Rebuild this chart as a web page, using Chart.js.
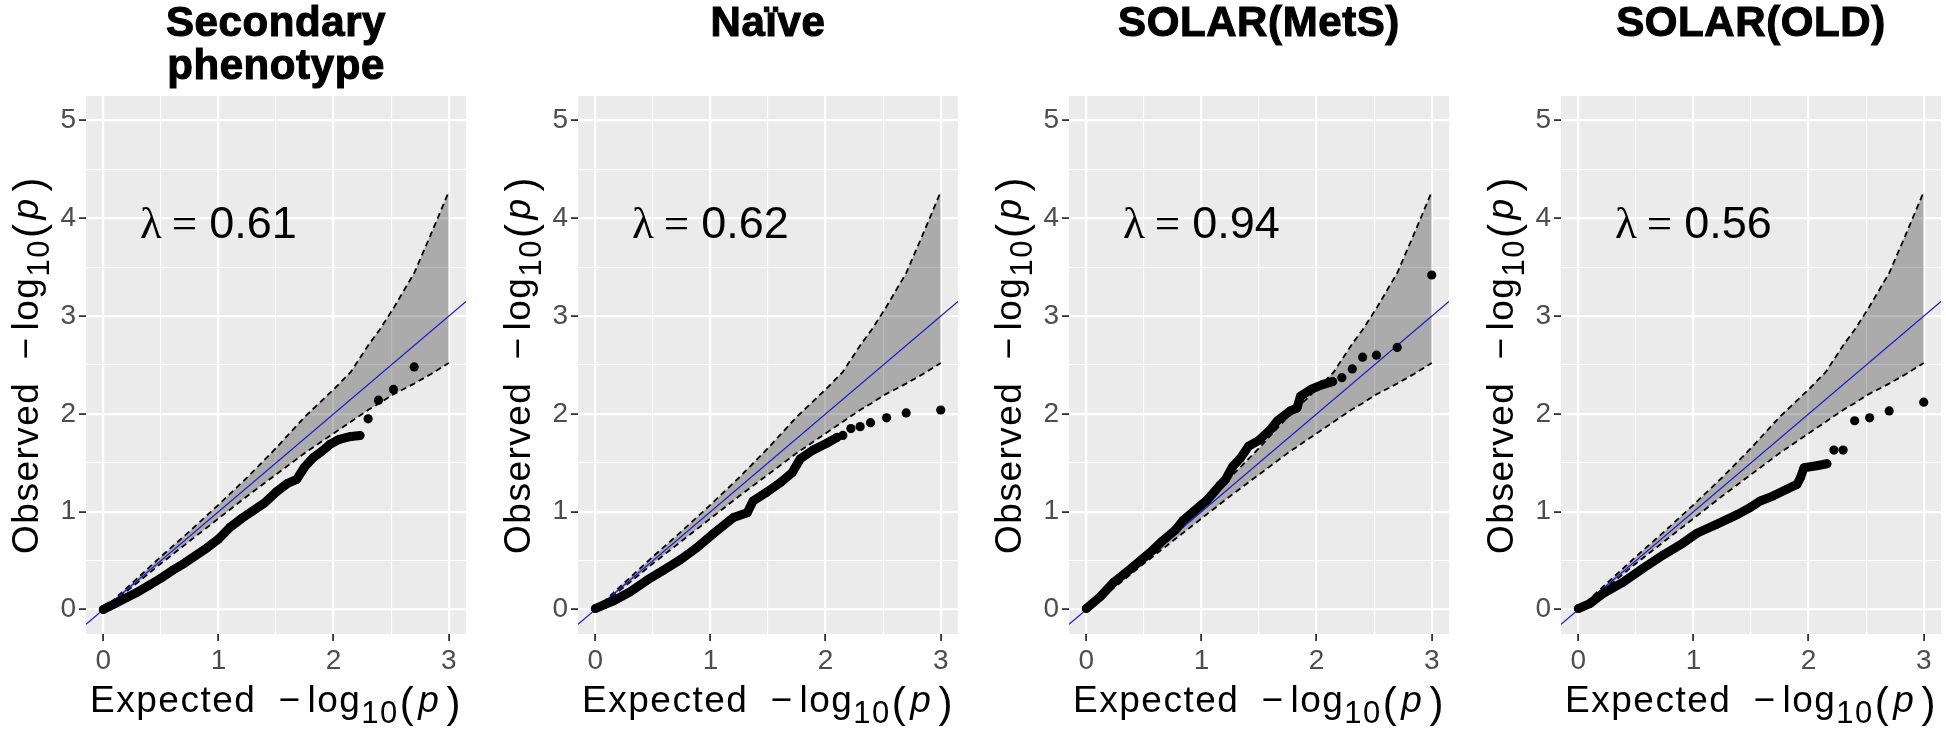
<!DOCTYPE html>
<html>
<head>
<meta charset="utf-8">
<script src="https://cdn.jsdelivr.net/npm/chart.js@4.4.0/dist/chart.umd.min.js"></script>
<style>
  body { margin: 0; background: #fff; width: 1946px; height: 732px; overflow: hidden; position: relative; }
  canvas { position: absolute; top: 0; }
</style>
</head>
<body>
<canvas id="g1" width="491" height="732" style="left:0px"></canvas>
<canvas id="g2" width="491" height="732" style="left:492px"></canvas>
<canvas id="g3" width="492" height="732" style="left:983px"></canvas>
<canvas id="g4" width="471" height="732" style="left:1475px"></canvas>
<script>
// Faixa de confiança (igual nos 4 painéis)
const faixaX   = [0, 0.25, 0.5, 0.75, 1, 1.25, 1.5, 1.75, 2, 2.15, 2.3, 2.4, 2.52, 2.7, 2.85, 3];
const faixaSup = [0, 0.27, 0.54, 0.80, 1.07, 1.35, 1.65, 1.97, 2.25, 2.43, 2.70, 2.86, 3.08, 3.44, 3.85, 4.27];
const faixaInf = [0, 0.23, 0.47, 0.70, 0.93, 1.16, 1.38, 1.60, 1.80, 1.92, 2.04, 2.11, 2.20, 2.31, 2.41, 2.52];

// Linha y = x
const diagonal = [-0.15, 3.15];

// Eixos (marcas a cada 0.5, rótulo só nos inteiros)
const limitesX = [-0.15, 3.15];
const limitesY = [-0.25, 5.25];
const marcasX = [0, 0.5, 1, 1.5, 2, 2.5, 3];
const marcasY = [0, 0.5, 1, 1.5, 2, 2.5, 3, 3.5, 4, 4.5, 5];

const titulos = [['Secondary', 'phenotype'], ['Naïve'], ['SOLAR(MetS)'], ['SOLAR(OLD)']];
const lambdas = ['0.61', '0.62', '0.94', '0.56'];

// Pontos [esperado, observado] - parte densa e cauda
const secundarioDenso = [[0, 0], [0.05, 0.03], [0.1, 0.06], [0.2, 0.12], [0.3, 0.18], [0.4, 0.25], [0.5, 0.32],
  [0.6, 0.40], [0.7, 0.47], [0.8, 0.55], [0.9, 0.63], [1.0, 0.72], [1.1, 0.84], [1.2, 0.93], [1.3, 1.01],
  [1.4, 1.09], [1.5, 1.20], [1.6, 1.29], [1.68, 1.33], [1.75, 1.46], [1.82, 1.55], [1.9, 1.62], [1.97, 1.69],
  [2.05, 1.74], [2.15, 1.77], [2.23, 1.78]];
const secundarioCauda = [[2.30, 1.95], [2.39, 2.14], [2.52, 2.25], [2.70, 2.48]];

const naiveDenso = [[0, 0.01], [0.08, 0.05], [0.16, 0.09], [0.30, 0.18], [0.45, 0.30], [0.59, 0.40], [0.74, 0.51],
  [0.88, 0.63], [1.03, 0.78], [1.20, 0.94], [1.32, 0.99], [1.37, 1.11], [1.49, 1.20], [1.61, 1.30], [1.71, 1.40],
  [1.78, 1.54], [1.89, 1.63], [2.01, 1.70], [2.10, 1.76]];
const naiveCauda = [[2.15, 1.78], [2.22, 1.85], [2.30, 1.87], [2.39, 1.91], [2.53, 1.96], [2.70, 2.01], [3.0, 2.04]];

const metsDenso = [[0, 0.01], [0.12, 0.13], [0.24, 0.28], [0.41, 0.44], [0.58, 0.61], [0.66, 0.70], [0.78, 0.82],
  [0.84, 0.91], [0.93, 1.00], [1.05, 1.12], [1.16, 1.27], [1.21, 1.33], [1.27, 1.46], [1.34, 1.55], [1.41, 1.67],
  [1.50, 1.73], [1.60, 1.84], [1.66, 1.93], [1.77, 2.03], [1.83, 2.06], [1.86, 2.18], [1.95, 2.25], [2.05, 2.30],
  [2.14, 2.33]];
const metsCauda = [[2.22, 2.37], [2.31, 2.46], [2.40, 2.58], [2.52, 2.60], [2.70, 2.68], [3.0, 3.42]];

const oldDenso = [[0, 0.01], [0.10, 0.06], [0.21, 0.16], [0.39, 0.28], [0.56, 0.42], [0.74, 0.56], [0.91, 0.68],
  [1.03, 0.78], [1.20, 0.87], [1.38, 0.97], [1.49, 1.04], [1.58, 1.11], [1.69, 1.16], [1.81, 1.23], [1.90, 1.28],
  [1.93, 1.35], [1.96, 1.45], [2.07, 1.47], [2.16, 1.49]];
const oldCauda = [[2.22, 1.63], [2.30, 1.63], [2.40, 1.93], [2.53, 1.96], [2.70, 2.03], [3.0, 2.12]];

const densos = [secundarioDenso, naiveDenso, metsDenso, oldDenso];
const caudas = [secundarioCauda, naiveCauda, metsCauda, oldCauda];

const fonte = '"Liberation Sans", Arial, sans-serif';
Chart.defaults.font.family = fonte;

function pares(lista) {
  return lista.map(p => ({ x: p[0], y: p[1] }));
}

function inteiro(v) {
  return Math.abs(v - Math.round(v)) < 1e-9;
}

// Rótulo "Palavra  -log10(p)" com subscrito
function desenharRotulo(ctx, palavra, cx, base) {
  const partes = [
    [palavra, '37px ' + fonte, 0, 22],
    ['\u2212', '37px ' + fonte, 0, 6],
    ['log', '37px ' + fonte, 0, 0],
    ['10', '31px ' + fonte, 11, 1],
    ['(', '42px ' + fonte, 5, 3],
    ['p', 'italic 37px ' + fonte, 0, 6],
    [')', '42px ' + fonte, 5, 0]
  ];
  ctx.letterSpacing = '1.5px';
  let total = 0;
  partes.forEach(p => { ctx.font = p[1]; total += ctx.measureText(p[0]).width + p[3]; });
  let x = cx - total / 2;
  ctx.textAlign = 'left';
  ctx.textBaseline = 'alphabetic';
  ctx.fillStyle = '#000';
  partes.forEach(p => {
    ctx.font = p[1];
    ctx.fillText(p[0], x, base + p[2]);
    x += ctx.measureText(p[0]).width + p[3];
  });
  ctx.letterSpacing = '0px';
}

const textos = {
  id: 'textos',
  afterDraw(chart, args, opts) {
    const ctx = chart.ctx;
    const a = chart.chartArea;
    const cx = (a.left + a.right) / 2;
    const cy = (a.top + a.bottom) / 2;
    ctx.save();

    // título (um pouco mais pesado, com contorno fino)
    ctx.fillStyle = '#000';
    ctx.strokeStyle = '#000';
    ctx.lineWidth = 1.1;
    ctx.font = 'bold 42px ' + fonte;
    ctx.letterSpacing = '0.6px';
    ctx.textAlign = 'center';
    ctx.textBaseline = 'alphabetic';
    opts.titulo.forEach((linha, i) => {
      ctx.fillText(linha, cx, 36 + i * 43);
      ctx.strokeText(linha, cx, 36 + i * 43);
    });
    ctx.letterSpacing = '0px';

    // lambda
    const lx = chart.scales.x.getPixelForValue(1);
    const ly = chart.scales.y.getPixelForValue(3.96) + 16;
    ctx.font = '45px "Liberation Serif", serif';
    const wl = ctx.measureText('\u03bb').width;
    const wi = ctx.measureText('=').width;
    ctx.font = '45px ' + fonte;
    const wn = ctx.measureText(opts.lambda).width;
    let x = lx - (wl + 10 + wi + 12 + wn) / 2;
    ctx.textAlign = 'left';
    ctx.font = '45px "Liberation Serif", serif';
    ctx.fillText('\u03bb', x, ly);
    x += wl + 10;
    ctx.fillText('=', x, ly);
    x += wi + 12;
    ctx.font = '45px ' + fonte;
    ctx.fillText(opts.lambda, x, ly);

    // eixo x
    desenharRotulo(ctx, 'Expected', cx, 712);

    // eixo y (girado)
    ctx.translate(38, cy);
    ctx.rotate(-Math.PI / 2);
    desenharRotulo(ctx, 'Observed', 0, 0);
    ctx.restore();
  }
};

function eixo(min, max, marcas, tamanho, ehX) {
  return {
    type: 'linear',
    min: min,
    max: max,
    afterBuildTicks: function (s) {
      s.ticks = marcas.map(v => ({ value: v }));
    },
    afterFit: function (s) {
      if (ehX) { s.height = tamanho; } else { s.width = tamanho; }
    },
    border: { display: false },
    grid: {
      color: '#ffffff',
      lineWidth: c => inteiro(c.tick.value) ? 2.2 : 1.1,
      tickColor: c => inteiro(c.tick.value) ? '#333333' : 'rgba(0,0,0,0)',
      tickLength: 7,
      tickWidth: 1.8
    },
    ticks: {
      autoSkip: false,
      maxRotation: 0,
      padding: 3,
      color: '#4D4D4D',
      font: { size: 28 },
      callback: v => inteiro(v) ? String(Math.round(v)) : ''
    }
  };
}

// fundo cinza só na área do gráfico
const fundo = {
  id: 'fundo',
  beforeDraw(chart) {
    const a = chart.chartArea;
    chart.ctx.save();
    chart.ctx.fillStyle = '#EBEBEB';
    chart.ctx.fillRect(a.left, a.top, a.right - a.left, a.bottom - a.top);
    chart.ctx.restore();
  }
};

function criarPainel(i) {
  const canvas = document.getElementById('g' + (i + 1));
  const largura = canvas.width;
  const sup = faixaX.map((x, k) => ({ x: x, y: faixaSup[k] }));
  const inf = faixaX.map((x, k) => ({ x: x, y: faixaInf[k] }));

  return new Chart(canvas.getContext('2d'), {
    type: 'line',
    data: {
      datasets: [
        {
          data: pares(caudas[i]),
          showLine: false,
          pointRadius: 4.6,
          pointBackgroundColor: '#000',
          pointBorderWidth: 0,
          order: 0
        },
        {
          data: pares(densos[i]),
          borderColor: '#000',
          borderWidth: 9,
          borderCapStyle: 'round',
          borderJoinStyle: 'round',
          pointRadius: 4.3,
          pointBackgroundColor: '#000',
          pointBorderWidth: 0,
          tension: 0,
          order: 1
        },
        {
          data: diagonal.map(v => ({ x: v, y: v })),
          borderColor: '#1a1acc',
          borderWidth: 1.2,
          pointRadius: 0,
          order: 2
        },
        {
          data: sup,
          borderColor: '#000',
          borderWidth: 1.8,
          borderDash: [6, 4],
          pointRadius: 0,
          fill: '+1',
          backgroundColor: 'rgba(0,0,0,0.27)',
          order: 3
        },
        {
          data: inf,
          borderColor: '#000',
          borderWidth: 1.8,
          borderDash: [6, 4],
          pointRadius: 0,
          fill: false,
          order: 4
        }
      ]
    },
    options: {
      responsive: false,
      animation: false,
      events: [],
      layout: { padding: { left: 0, top: 96, right: largura - 466, bottom: 0 } },
      scales: {
        x: eixo(limitesX[0], limitesX[1], marcasX, 98, true),
        y: eixo(limitesY[0], limitesY[1], marcasY, 86, false)
      },
      plugins: {
        legend: { display: false },
        tooltip: { enabled: false },
        filler: { drawTime: 'beforeDatasetsDraw' },
        textos: { titulo: titulos[i], lambda: lambdas[i] }
      }
    },
    plugins: [fundo, textos]
  });
}

for (let i = 0; i < 4; i++) {
  criarPainel(i);
}
</script>
</body>
</html>
